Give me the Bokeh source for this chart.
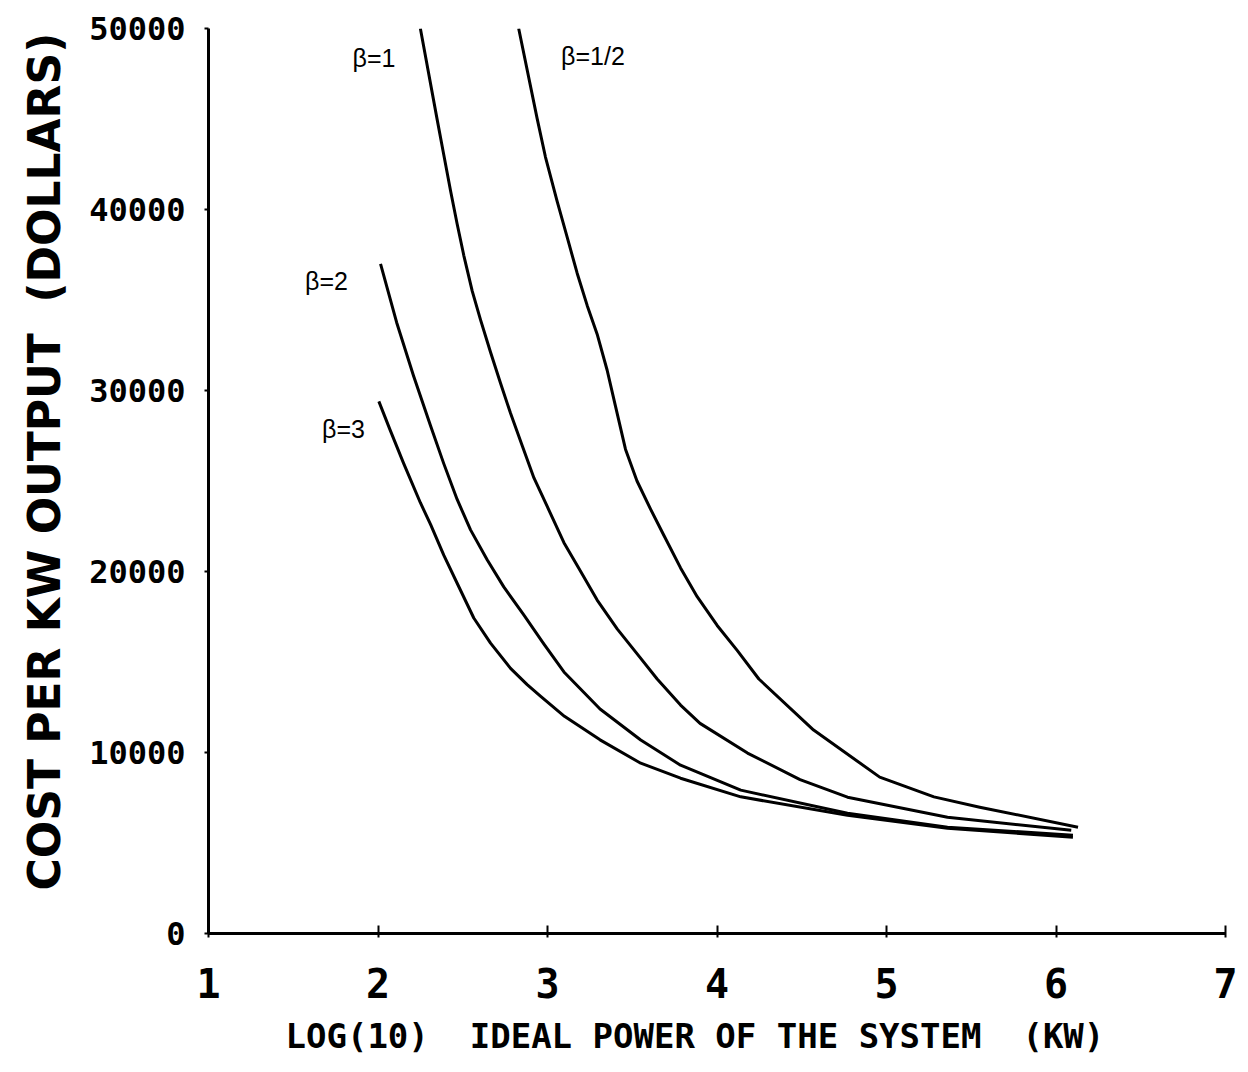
from bokeh.plotting import figure
from bokeh.models import Range1d, FixedTicker, Label, Title
from bokeh.embed import file_html
from bokeh.resources import INLINE

# ---- data ----
beta_half_x = [2.83, 2.939, 2.988, 3.057, 3.116, 3.175, 3.234, 3.293, 3.352, 3.401, 3.460,
               3.528, 3.608, 3.687, 3.785, 3.883, 4.001, 4.119, 4.247, 4.57, 4.96, 5.28, 5.55, 6.13]
beta_half_y = [50000, 45020, 42900, 40450, 38470, 36480, 34700, 33110, 31120, 29140, 26760,
               25000, 23450, 21990, 20200, 18610, 17020, 15640, 14060, 11240, 8640, 7550, 6980, 5870]

beta_1_x = [2.25, 2.348, 2.388, 2.428, 2.467, 2.506, 2.556, 2.605, 2.664, 2.723, 2.782, 2.851,
            2.92, 2.999, 3.097, 3.195, 3.293, 3.411, 3.529, 3.647, 3.785, 3.90, 4.18, 4.49,
            4.77, 5.36, 6.09]
beta_1_y = [50000, 45020, 43030, 41040, 39200, 37470, 35490, 33900, 32110, 30400, 28740, 26950,
            25170, 23580, 21590, 20010, 18420, 16830, 15450, 14060, 12620, 11610, 9970, 8500,
            7530, 6420, 5700]

beta_2_x = [2.015, 2.11, 2.21, 2.31, 2.388, 2.467, 2.546, 2.644, 2.742, 2.86, 2.978, 3.097,
            3.31, 3.55, 3.785, 4.14, 4.77, 5.36, 6.10]
beta_2_y = [37000, 33760, 30800, 28050, 25960, 23980, 22300, 20650, 19150, 17600, 16000, 14450,
            12400, 10690, 9300, 7920, 6640, 5870, 5430]

beta_3_x = [2.005, 2.07, 2.15, 2.25, 2.31, 2.388, 2.467, 2.565, 2.664, 2.782, 2.88, 2.96,
            3.10, 3.31, 3.55, 3.785, 4.14, 4.77, 5.36, 6.10]
beta_3_y = [29400, 27850, 26000, 23800, 22600, 20900, 19350, 17430, 16040, 14650, 13750, 13100,
            12000, 10700, 9410, 8580, 7550, 6530, 5810, 5320]

series_names = ["\u03b2=1/2", "\u03b2=1", "\u03b2=2", "\u03b2=3"]
x_ticks = [1, 2, 3, 4, 5, 6, 7]
y_ticks = [0, 10000, 20000, 30000, 40000, 50000]

x_title = "LOG(10)\u00a0\u00a0IDEAL POWER OF THE SYSTEM\u00a0\u00a0(KW)"
y_title = "COST PER KW OUTPUT\u00a0\u00a0(DOLLARS)"

# label anchor positions (data units)
label_x = [3.08, 1.85, 1.57, 1.67]
label_y = [48500, 48350, 36050, 27900]

p = figure(frame_width=1017, frame_height=905,
           min_border_left=208, min_border_right=15,
           min_border_top=28, min_border_bottom=131,
           x_range=Range1d(1, 7), y_range=Range1d(0, 50000),
           output_backend="svg", toolbar_location=None)

p.outline_line_color = None
p.xgrid.visible = False
p.ygrid.visible = False
p.background_fill_color = "white"
p.border_fill_color = "white"

p.xaxis.ticker = FixedTicker(ticks=x_ticks)
p.yaxis.ticker = FixedTicker(ticks=y_ticks)
for ax in (p.xaxis, p.yaxis):
    ax.axis_line_width = 3
    ax.axis_line_color = "black"
    ax.major_tick_line_width = 2
    ax.major_tick_line_color = "black"
    ax.minor_tick_line_color = None
    ax.major_label_text_color = "black"
    ax.major_label_text_font = "DejaVu Sans Mono"
    ax.major_label_text_font_style = "bold"

p.xaxis.major_tick_in = 8
p.xaxis.major_tick_out = 4
p.xaxis.major_label_text_font_size = "40px"
p.xaxis.major_label_standoff = 30

p.yaxis.major_tick_in = 0
p.yaxis.major_tick_out = 4
p.yaxis.major_label_text_font_size = "32px"
p.yaxis.major_label_standoff = 19

p.add_layout(Title(text=y_title, align="left", offset=43, vertical_align="top",
                   text_font="DejaVu Sans", text_font_style="bold",
                   text_font_size="44px", text_color="black", standoff=29), "left")

p.add_layout(Title(text=x_title, align="left", offset=77,
                   text_font="DejaVu Sans Mono", text_font_style="bold",
                   text_font_size="34px", text_color="black", standoff=27), "below")

series = [(beta_half_x, beta_half_y), (beta_1_x, beta_1_y),
          (beta_2_x, beta_2_y), (beta_3_x, beta_3_y)]
for xs, ys in series:
    p.line(xs, ys, line_width=3, line_color="black", line_join="round")

for name, lx, ly in zip(series_names, label_x, label_y):
    p.add_layout(Label(x=lx, y=ly, text=name, text_font="Liberation Sans",
                       text_font_size="25px", text_color="black",
                       text_baseline="alphabetic"))

open("out.html", "w").write(file_html(p, INLINE))
